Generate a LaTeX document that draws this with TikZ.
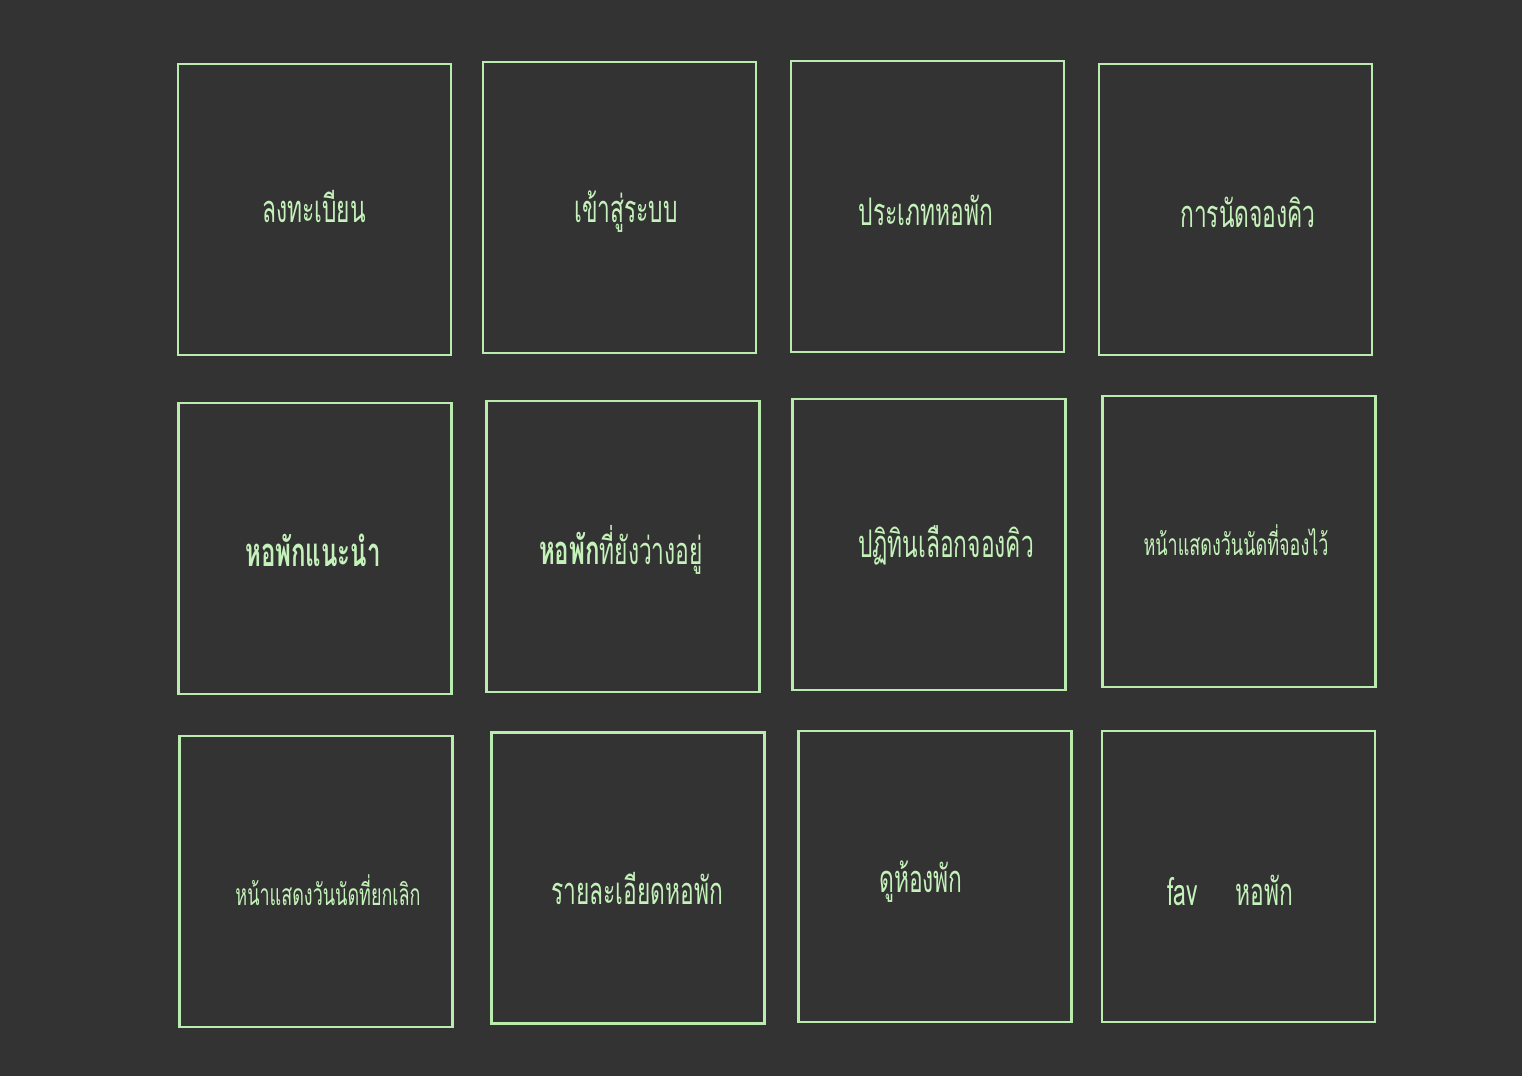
\documentclass[tikz,border=0pt]{standalone}
\usepackage{fontspec}
\newfontfamily\thaifont[Script=Thai,FakeStretch=0.6]{Loma}
\usepackage{xcolor}
\definecolor{boardBg}{RGB}{51,51,51}
\definecolor{boardLine}{RGB}{186,236,176}
\definecolor{boardText}{RGB}{196,242,186}

\tikzset{
  tile/.style={draw=boardLine, line width=1.4pt, minimum width=136.5pt, minimum height=145.5pt, inner sep=0pt},
  caption/.style={text=boardText, font=\thaifont\fontsize{19}{22}\selectfont, inner sep=1pt},
  smallcap/.style={caption, font=\thaifont\fontsize{15}{18}\selectfont}
}

\begin{document}
\begin{tikzpicture}[x=0.5pt, y=-0.5pt]
  % background and page size
  \fill[boardBg] (0,0) rectangle (1522,1076);
  \useasboundingbox (0,0) rectangle (1522,1076);

  % first row
  \node[tile] (register) at (314.5,209.5) {};
  \node[tile] (login) at (619.5,207.5) {};
  \node[tile] (dormtype) at (927.5,206.5) {};
  \node[tile] (booking) at (1235.5,209.5) {};
  \node[caption] (registerTxt) at (314,207) {ลงทะเบียน};
  \node[caption] (loginTxt) at (626,212) {เข้าสู่ระบบ};
  \node[caption] (dormtypeTxt) at (926,210) {ประเภทหอพัก};
  \node[caption] (bookingTxt) at (1248,212) {การนัดจองคิว};

  % second row
  \node[tile] (suggest) at (315,548.5) {};
  \node[tile] (vacant) at (623,546.5) {};
  \node[tile] (calendar) at (929,544.5) {};
  \node[tile] (booked) at (1239,541.5) {};
  \node[caption, font=\thaifont\bfseries\fontsize{20}{22}\selectfont] (suggestTxt) at (313,550) {หอพักแนะนำ};
  \node[caption] (vacantTxt) at (621,550) {{\bfseries\fontsize{20}{22}\selectfont หอพัก}ที่ยังว่างอยู่};
  \node[caption] (calendarTxt) at (946,545) {ปฏิทินเลือกจองคิว};
  \node[smallcap] (bookedTxt) at (1236,540) {หน้าแสดงวันนัดที่จองไว้};

  % third row
  \node[tile] (cancelled) at (316,881.5) {};
  \node[tile] (detail) at (628,878) {};
  \node[tile] (rooms) at (935,876.5) {};
  \node[tile] (favourite) at (1238.5,876.5) {};
  \node[smallcap] (cancelledTxt) at (328,890) {หน้าแสดงวันนัดที่ยกเลิก};
  \node[caption] (detailTxt) at (637,888) {รายละเอียดหอพัก};
  \node[caption] (roomsTxt) at (921,882) {ดูห้องพัก};
  \node[caption] (favouriteTxt) at (1230,890) {fav\hspace{1em}หอพัก};
\end{tikzpicture}
\end{document}
